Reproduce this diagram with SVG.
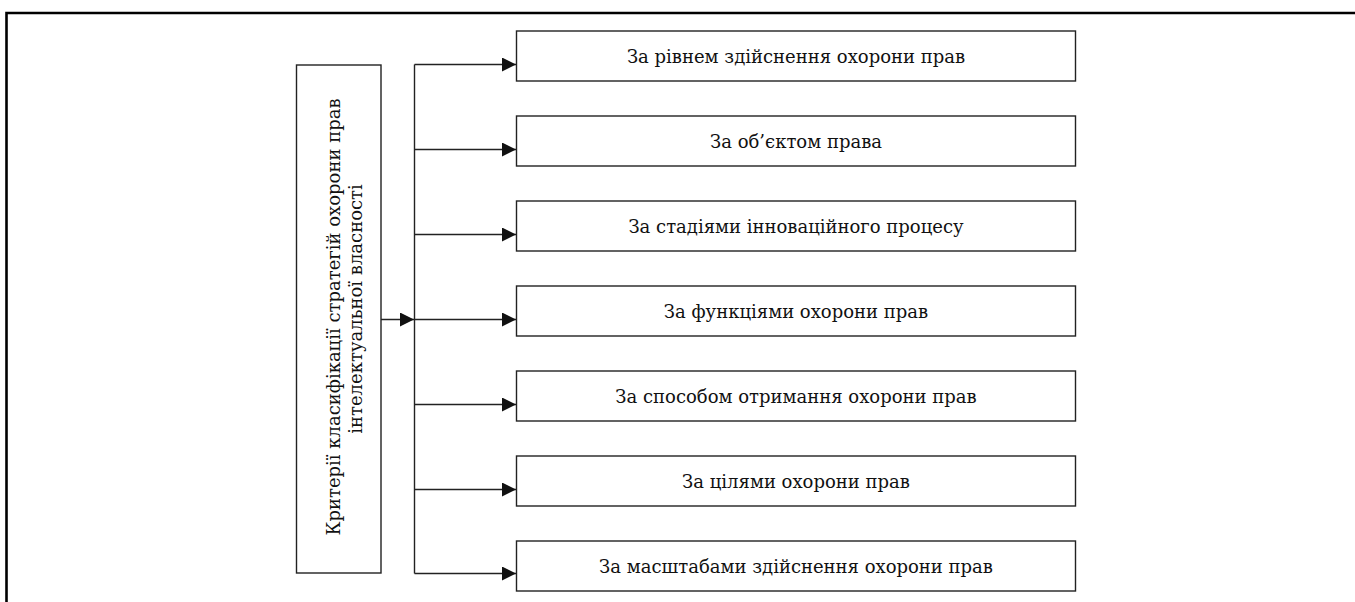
<svg xmlns="http://www.w3.org/2000/svg" width="1355" height="602" viewBox="0 0 1355 602">
<defs>
<marker id="ah" viewBox="0 0 14 14" refX="14" refY="7" markerWidth="14" markerHeight="14" markerUnits="userSpaceOnUse" orient="auto">
<path d="M0,0 L14,7 L0,14 Z" fill="#111"/>
</marker>
<style>
.box{fill:#fff;stroke:#222;stroke-width:1.4}
.t{font-family:"DejaVu Serif","Liberation Serif",serif;font-size:18px;fill:#111;text-anchor:middle}
.c{fill:none;stroke:#222;stroke-width:1.4}
</style>
</defs>
<rect x="0" y="0" width="1355" height="602" fill="#fff"/>
<path d="M6.5,602 V13 H1355" fill="none" stroke="#000" stroke-width="2.6"/>
<g id="root">
<rect class="box" x="296.5" y="65" width="84.5" height="508"/>
<text class="t" transform="translate(340,317) rotate(-90)">Критерії класифікації стратегій охорони прав</text>
<text class="t" transform="translate(362,309) rotate(-90)">інтелектуальної власності</text>
</g>
<g id="connectors">
<path class="c" d="M381,319.5 H414" marker-end="url(#ah)"/>
<path class="c" d="M414.5,64.5 V573.5"/>
<path class="c" d="M414.5,64.5 H516" marker-end="url(#ah)"/>
<path class="c" d="M414.5,149.5 H516" marker-end="url(#ah)"/>
<path class="c" d="M414.5,234.5 H516" marker-end="url(#ah)"/>
<path class="c" d="M414.5,319.5 H516" marker-end="url(#ah)"/>
<path class="c" d="M414.5,404.5 H516" marker-end="url(#ah)"/>
<path class="c" d="M414.5,489.5 H516" marker-end="url(#ah)"/>
<path class="c" d="M414.5,573.5 H516" marker-end="url(#ah)"/>
</g>
<g id="n1"><rect class="box" x="516.5" y="31" width="559" height="50"/><text class="t" x="796" y="63">За рівнем здійснення охорони прав</text></g>
<g id="n2"><rect class="box" x="516.5" y="116" width="559" height="50"/><text class="t" x="796" y="148">За об’єктом права</text></g>
<g id="n3"><rect class="box" x="516.5" y="201" width="559" height="50"/><text class="t" x="796" y="233">За стадіями інноваційного процесу</text></g>
<g id="n4"><rect class="box" x="516.5" y="286" width="559" height="50"/><text class="t" x="796" y="318">За функціями охорони прав</text></g>
<g id="n5"><rect class="box" x="516.5" y="371" width="559" height="50"/><text class="t" x="796" y="403">За способом отримання охорони прав</text></g>
<g id="n6"><rect class="box" x="516.5" y="456" width="559" height="50"/><text class="t" x="796" y="488">За цілями охорони прав</text></g>
<g id="n7"><rect class="box" x="516.5" y="541" width="559" height="50"/><text class="t" x="796" y="573">За масштабами здійснення охорони прав</text></g>
</svg>
